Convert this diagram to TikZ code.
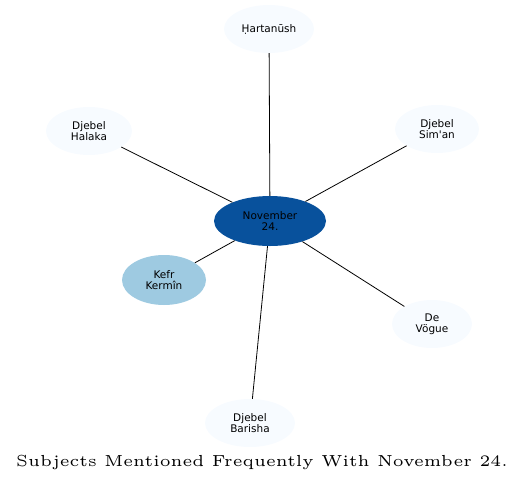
\documentclass[tikz,border=0pt]{standalone}
\usepackage{fontspec}
\newfontfamily\nodefont{DejaVu Sans}
\newfontfamily\titlefont{lmroman5-regular.otf}
\usepackage{xcolor}
\usepackage{tikz}
\usetikzlibrary{shapes.geometric}
\definecolor{hubblue}{HTML}{08519C}
\definecolor{nearblue}{HTML}{9ECAE1}
\definecolor{paleblue}{HTML}{F7FBFF}

\begin{document}
\begin{tikzpicture}[
  x=1pt, y=-1pt,
  every node/.style={font=\nodefont\fontsize{10.5}{11}\selectfont},
  snode/.style={
    ellipse, fill=paleblue, draw=none, align=center,
    inner sep=0pt, minimum width=86pt, minimum height=48pt
  },
  hnode/.style={
    snode, fill=hubblue, minimum width=112pt, minimum height=50pt
  },
  knode/.style={
    snode, fill=nearblue, minimum width=84pt, minimum height=50pt
  },
  link/.style={black, line width=0.8pt}
]
\useasboundingbox (0,0) rectangle (525,483);

\node[hnode] (NOV)  at (270, 221) {November\\24.};

\node[snode, minimum width=90pt] (HART) at (269, 29)  {Ḥartanūsh};
\node[snode] (HAL)  at (89, 131)  {Djebel\\Halaka};
\node[snode, minimum width=84pt] (SIM)  at (437, 129) {Djebel\\Sim'an};
\node[knode] (KEFR) at (164, 280) {Kefr\\Kermîn};
\node[snode, minimum width=80pt] (VOG)  at (432, 324) {De\\Vögue};
\node[snode, minimum width=90pt] (BAR)  at (250, 423) {Djebel\\Barisha};

%% Liens depuis le centre
\draw[link] (NOV) -- (HART);
\draw[link] (NOV) -- (HAL);
\draw[link] (NOV) -- (SIM);
\draw[link] (NOV) -- (KEFR);
\draw[link] (NOV) -- (VOG);
\draw[link] (NOV) -- (BAR);

%% Titre
\node[font=\titlefont\fontsize{16}{18}\selectfont] (TITLE) at (262, 462)
  {Subjects Mentioned Frequently With November 24.};

\end{tikzpicture}
\end{document}
